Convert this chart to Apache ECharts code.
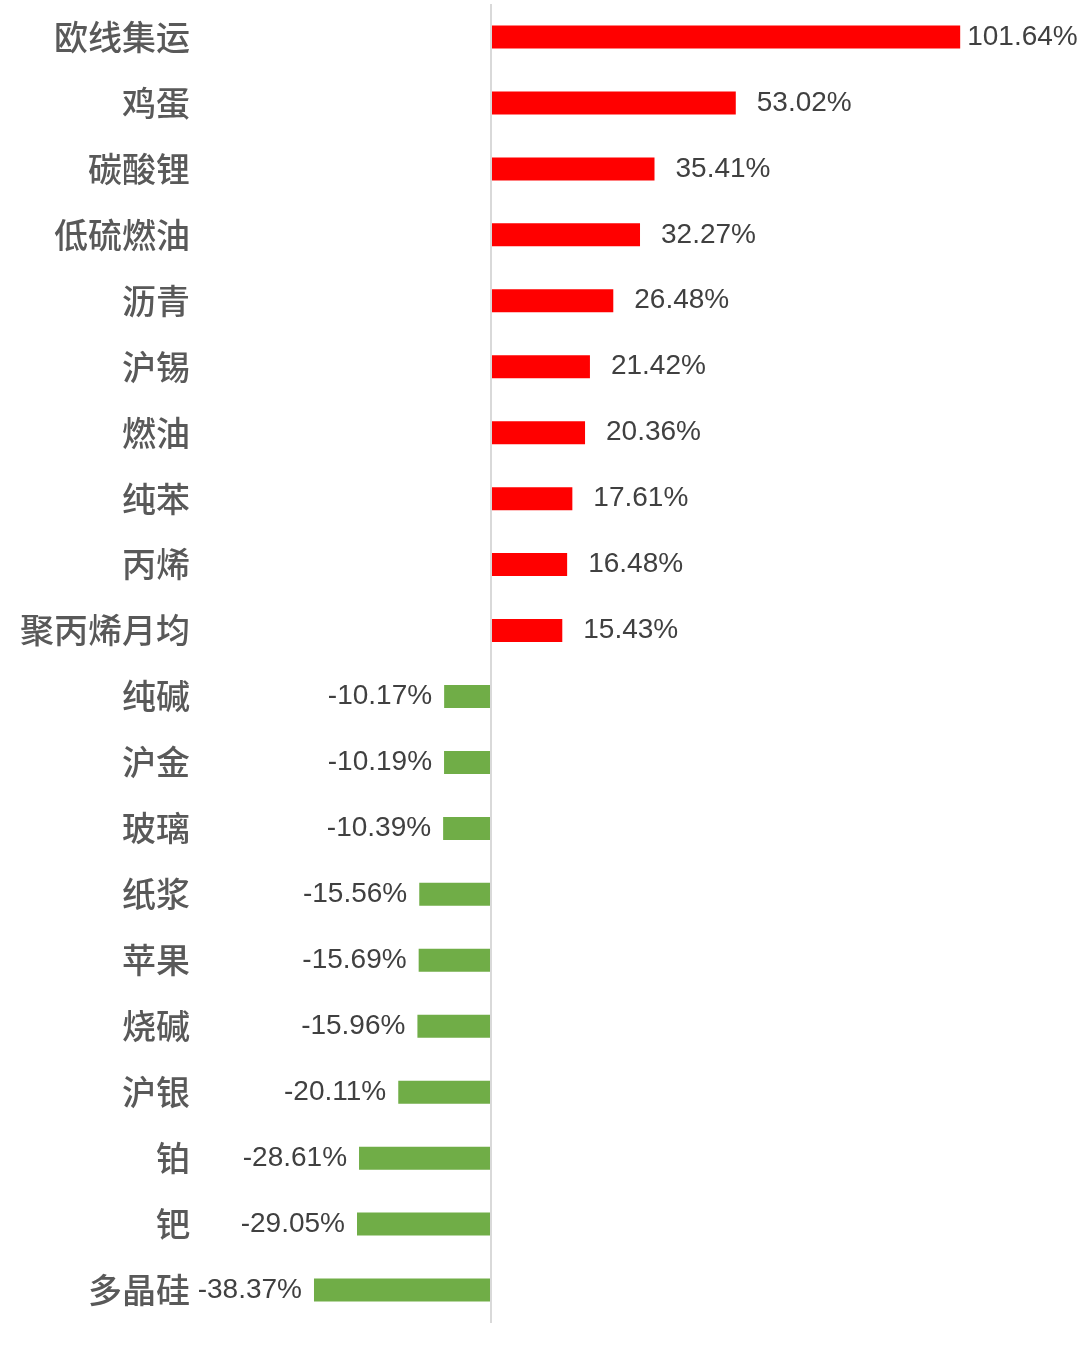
<!DOCTYPE html>
<html>
<head>
<meta charset="utf-8">
<script src="https://cdn.jsdelivr.net/npm/echarts@6/dist/echarts.min.js"></script>
<style>
  html, body { margin: 0; padding: 0; background: #fff; }
  #chart { width: 1080px; height: 1347px; }
</style>
</head>
<body>
<div id="chart"></div>
<script>
// 品种（从上到下）
var categories = ['欧线集运', '鸡蛋', '碳酸锂', '低硫燃油', '沥青', '沪锡', '燃油', '纯苯', '丙烯', '聚丙烯月均',
  '纯碱', '沪金', '玻璃', '纸浆', '苹果', '烧碱', '沪银', '铂', '钯', '多晶硅'];
// 涨跌幅 %
var values = [101.64, 53.02, 35.41, 32.27, 26.48, 21.42, 20.36, 17.61, 16.48, 15.43,
  -10.17, -10.19, -10.39, -15.56, -15.69, -15.96, -20.11, -28.61, -29.05, -38.37];

var myChart = echarts.init(document.getElementById('chart'));

var seriesData = values.map(function (v, i) {
  var up = v >= 0;
  return {
    value: v,
    itemStyle: { color: up ? '#ff0000' : '#70ad47' },
    label: {
      position: up ? 'right' : 'left',
      distance: i === 0 ? 7 : (up ? 21 : 12)
    }
  };
});

var option = {
  animation: false,
  grid: { left: 0, right: 0, top: 4, bottom: 24, containLabel: false, outerBoundsMode: 'none' },
  xAxis: {
    type: 'value',
    min: -106.4,
    max: 127.6,
    show: false
  },
  yAxis: {
    type: 'category',
    inverse: true,
    data: categories,
    axisLine: { show: false, onZero: false },
    axisTick: { show: false },
    axisLabel: {
      margin: -190,
      color: '#595959',
      fontSize: 34,
      fontWeight: 500,
      fontFamily: 'Noto Sans CJK SC'
    }
  },
  series: [{
    type: 'bar',
    data: seriesData,
    barWidth: 23,
    label: {
      show: true,
      color: '#404040',
      fontSize: 28,
      fontFamily: 'Liberation Sans',
      formatter: function (p) { return p.value.toFixed(2) + '%'; }
    },
    markLine: {
      silent: true,
      symbol: 'none',
      label: { show: false },
      lineStyle: { color: '#d9d9d9', width: 2, type: 'solid' },
      data: [{ xAxis: 0 }]
    }
  }]
};
myChart.setOption(option);
</script>
</body>
</html>
